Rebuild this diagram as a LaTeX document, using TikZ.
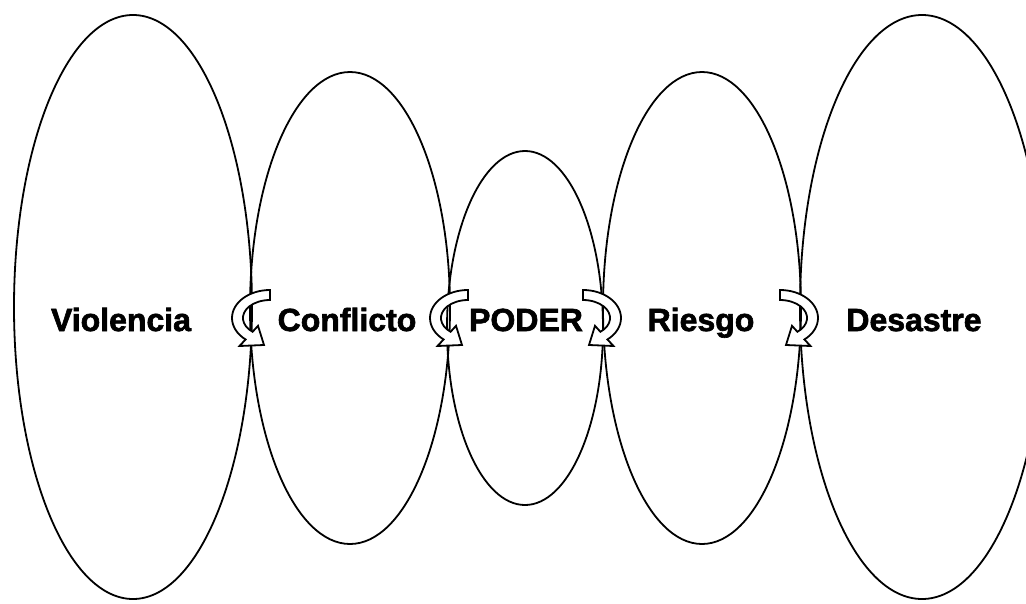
\documentclass[tikz,border=0pt]{standalone}
\usepackage{fontspec}
\setmainfont{Liberation Sans}[BoldFeatures={FakeBold=2}]
\usetikzlibrary{calc}
\tikzset{
  oval/.style={draw=black, line width=1.8pt},
  word/.style={font=\bfseries\fontsize{32}{36}\selectfont, anchor=base, inner sep=0pt},
  bandarrow/.style={draw=black, fill=white, line width=1.8pt, line join=miter},
  carrow/.pic={
    \draw[bandarrow] (20,-26) arc[start angle=-90, end angle=-230, x radius=38, y radius=28]
      -- (-10.5,30) -- (14,29) -- (8,9.8) -- (2.6,15.8)
      arc[start angle=-230, end angle=-90, x radius=27, y radius=18] -- cycle;
  }
}
\begin{document}
\begin{tikzpicture}[x=1pt, y=-1pt]
\useasboundingbox (0,0) rectangle (1026,603);
\clip (0,0) rectangle (1026,603);
\fill[white] (0,0) rectangle (1026,603);
% ellipses
\draw[oval] (133,307) ellipse [x radius=119, y radius=292];
\draw[oval] (350,308) ellipse [x radius=100, y radius=236];
\draw[oval] (525,328) ellipse [x radius=78, y radius=177];
\draw[oval] (702,308) ellipse [x radius=99, y radius=236];
\draw[oval] (922,307) ellipse [x radius=122, y radius=292];
% curved arrows
\pic at (250,316) {carrow};
\pic at (448,316) {carrow};
\pic[xscale=-1] at (603,316) {carrow};
\pic[xscale=-1] at (800,316) {carrow};
% labels
\node[word] (vio) at (121,331) {Violencia};
\node[word] (con) at (347,331) {Conflicto};
\node[word] (pod) at (526,331) {PODER};
\node[word] (rie) at (701,331) {Riesgo};
\node[word] (des) at (914,331) {Desastre};
\end{tikzpicture}
\end{document}
